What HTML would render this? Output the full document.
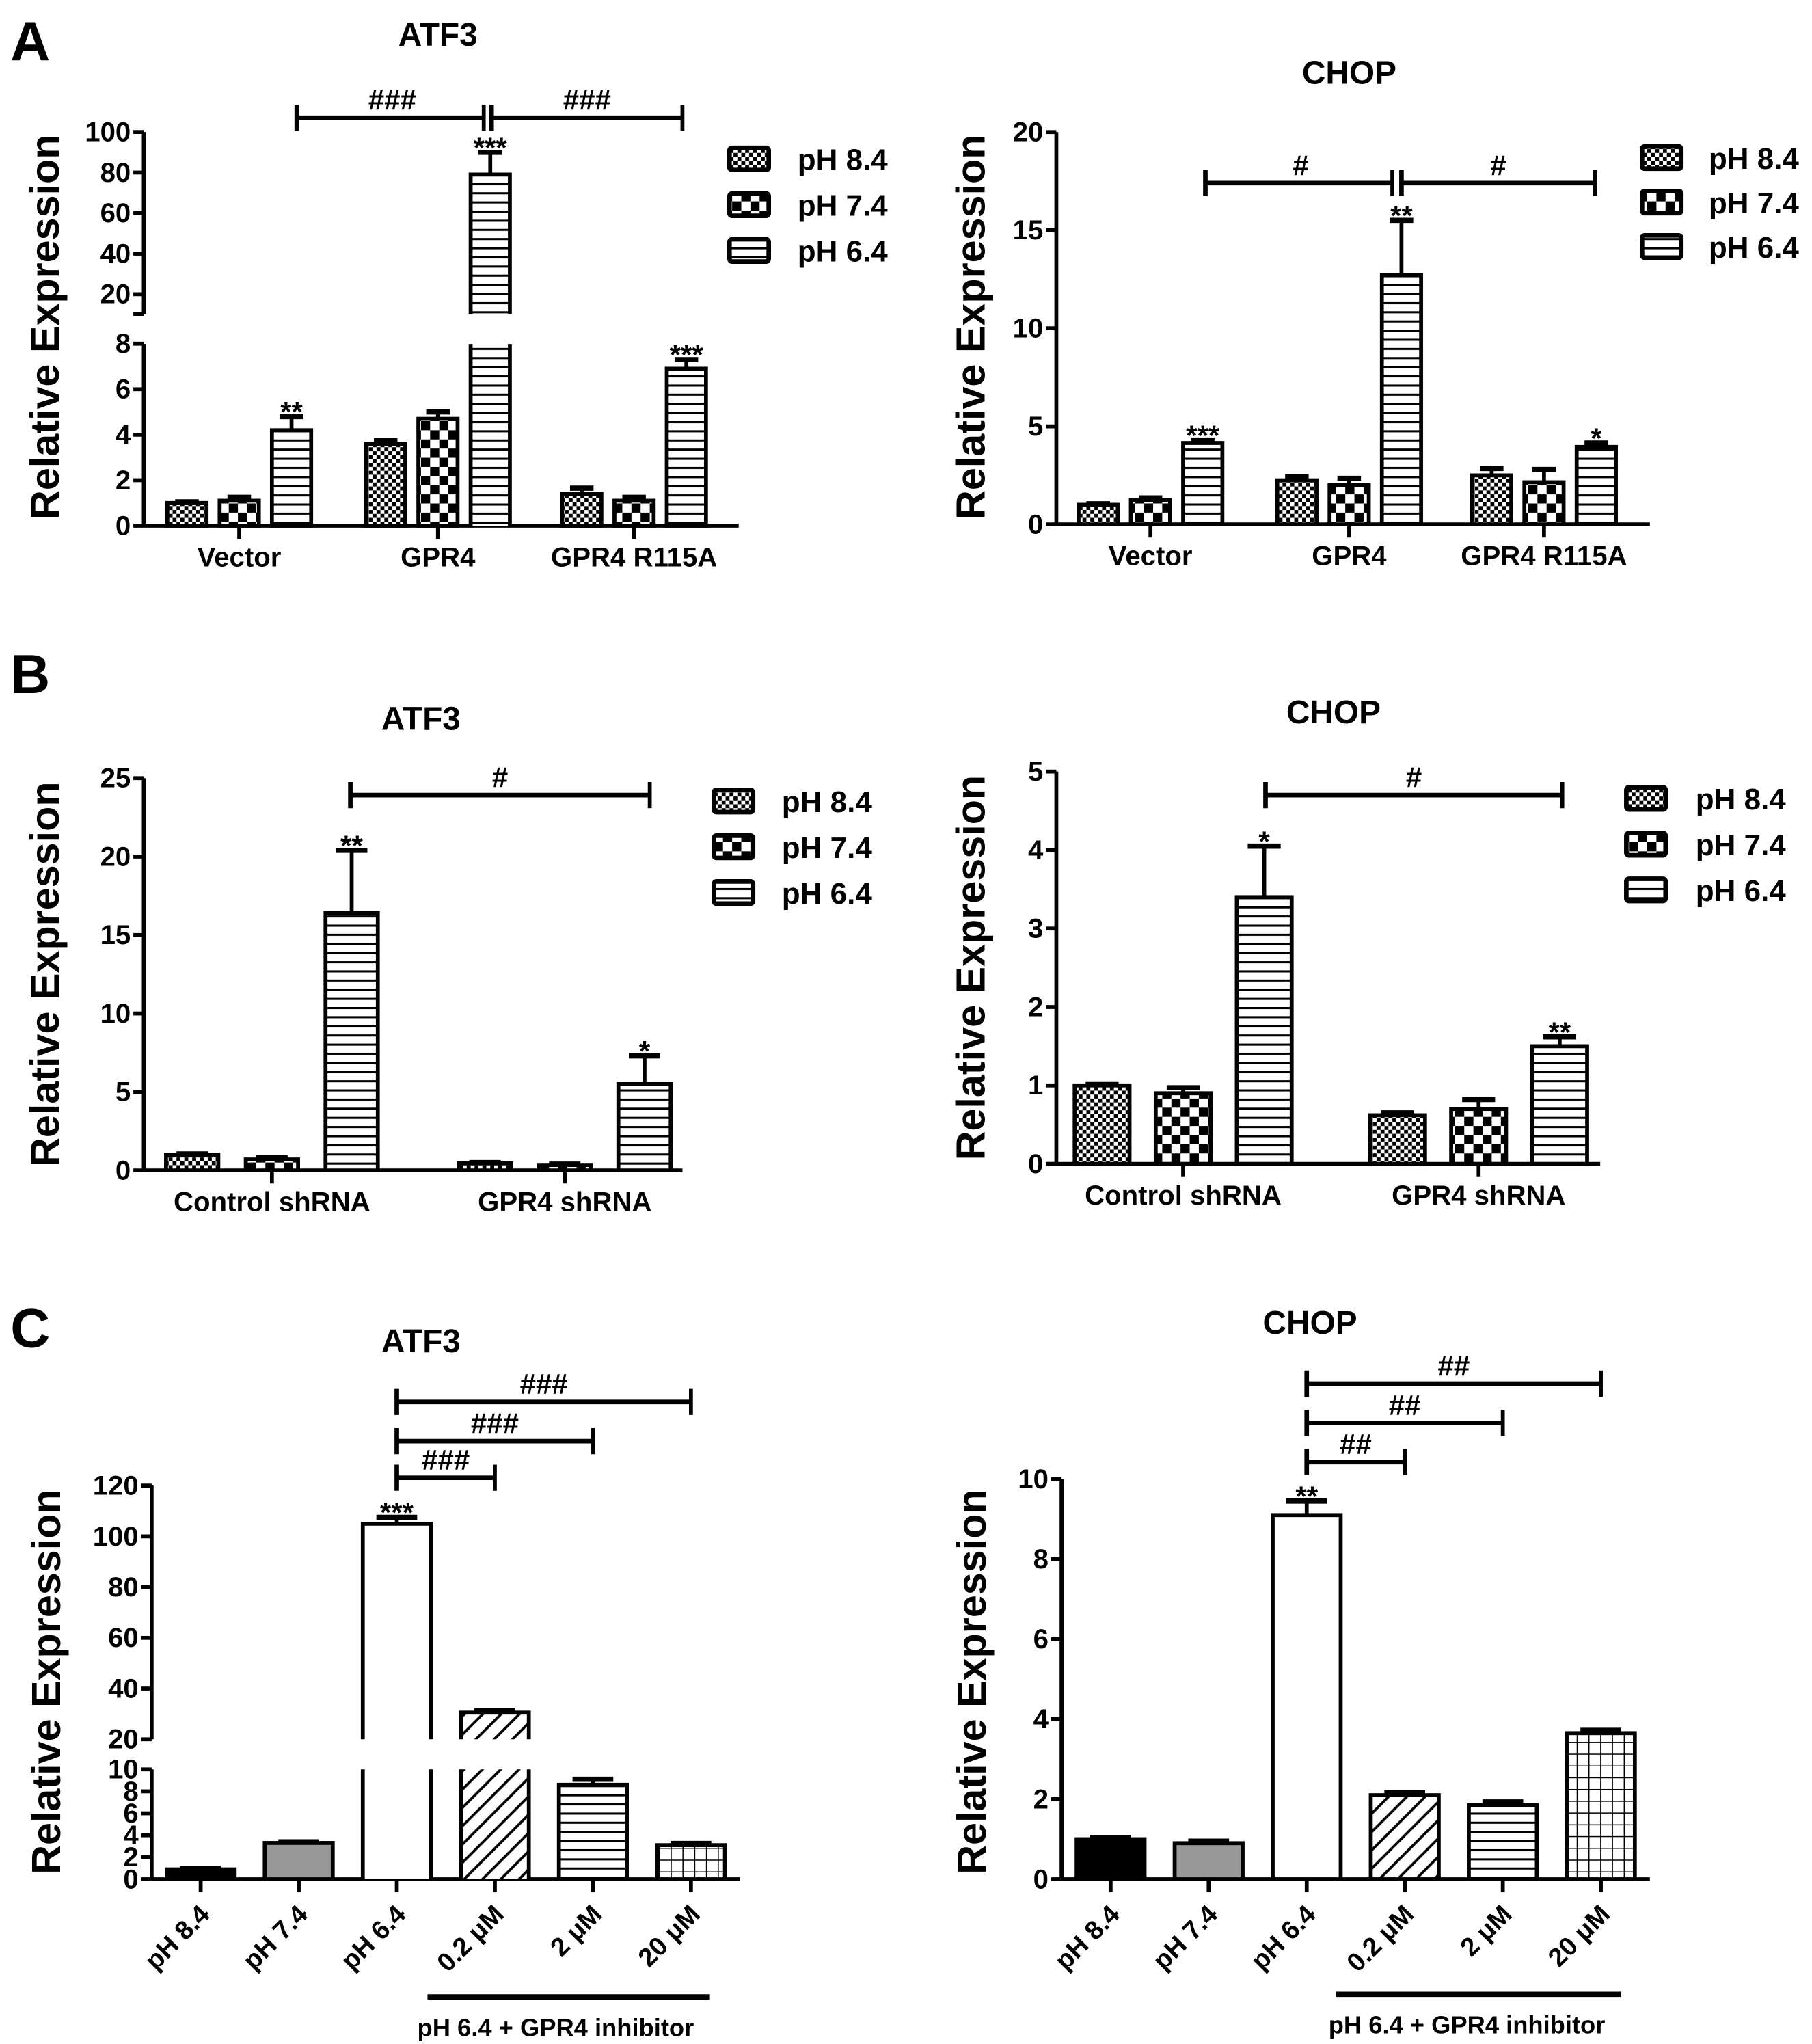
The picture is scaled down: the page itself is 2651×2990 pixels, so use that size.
<!DOCTYPE html>
<html><head><meta charset="utf-8">
<style>
html,body{margin:0;padding:0;background:#fff;}
svg{display:block;}
text{font-family:"Liberation Sans",Arial,sans-serif;font-weight:bold;fill:#000;}
</style></head>
<body>
<svg id="fig" width="2651" height="2990" viewBox="0 0 1386 1563" preserveAspectRatio="none" xmlns="http://www.w3.org/2000/svg">
<defs>
<pattern id="pFine" width="6" height="6" patternUnits="userSpaceOnUse"><rect width="6" height="6" fill="#fff"/><rect width="3" height="3" fill="#000"/><rect x="3" y="3" width="3" height="3" fill="#000"/></pattern>
<pattern id="pCoarse" width="14" height="14" patternUnits="userSpaceOnUse"><rect width="14" height="14" fill="#fff"/><rect width="7" height="7" fill="#000"/><rect x="7" y="7" width="7" height="7" fill="#000"/></pattern>
<pattern id="pHoriz" width="8" height="7" patternUnits="userSpaceOnUse"><rect width="8" height="7" fill="#fff"/><rect y="0" width="8" height="1.6" fill="#000"/></pattern>
<pattern id="pDiag" width="14" height="14" patternUnits="userSpaceOnUse"><rect width="14" height="14" fill="#fff"/><path d="M-2,16 L16,-2 M-9,9 L9,-9 M5,23 L23,5" stroke="#000" stroke-width="2"/></pattern>
<pattern id="pGrid" width="9" height="9" patternUnits="userSpaceOnUse"><rect width="9" height="9" fill="#fff"/><path d="M0,0 H9 M0,0 V9" stroke="#000" stroke-width="1.6"/></pattern>
</defs>
<g id="root"></g>
</svg>
<script>
// ---- Panel A ATF3 ----
const aAtfCats = ["Vector","GPR4","GPR4 R115A"];
const aAtf84 = [1.0, 3.6, 1.4];
const aAtf74 = [1.1, 4.7, 1.1];
const aAtf64 = [4.2, 79, 6.9];
const aAtfE84 = [0.05, 0.15, 0.25];
const aAtfE74 = [0.15, 0.3, 0.15];
const aAtfE64 = [0.6, 11, 0.4];
const aAtfStars = ["","","**","","","***","","","***"];
const aAtfLowTicks = [0,2,4,6,8];
const aAtfUpTicks = [20,40,60,80,100];
// ---- Panel A CHOP ----
const aChopCats = ["Vector","GPR4","GPR4 R115A"];
const aChop84 = [1.0, 2.25, 2.5];
const aChop74 = [1.25, 2.0, 2.15];
const aChop64 = [4.15, 12.7, 3.95];
const aChopE84 = [0.05, 0.2, 0.35];
const aChopE74 = [0.1, 0.35, 0.65];
const aChopE64 = [0.15, 2.8, 0.2];
const aChopStars = ["","","***","","","**","","","*"];
const aChopTicks = [0,5,10,15,20];
// ---- Panel B ATF3 ----
const bAtfCats = ["Control shRNA","GPR4 shRNA"];
const bAtf84 = [1.0, 0.45];
const bAtf74 = [0.7, 0.35];
const bAtf64 = [16.4, 5.5];
const bAtfE84 = [0.05, 0.05];
const bAtfE74 = [0.1, 0.05];
const bAtfE64 = [4.0, 1.8];
const bAtfStars = ["","","**","","","*"];
const bAtfTicks = [0,5,10,15,20,25];
// ---- Panel B CHOP ----
const bChopCats = ["Control shRNA","GPR4 shRNA"];
const bChop84 = [1.0, 0.62];
const bChop74 = [0.9, 0.7];
const bChop64 = [3.4, 1.5];
const bChopE84 = [0.01, 0.03];
const bChopE74 = [0.07, 0.12];
const bChopE64 = [0.65, 0.12];
const bChopStars = ["","","*","","","**"];
const bChopTicks = [0,1,2,3,4,5];
// ---- Panel C ATF3 ----
const cCats = ["pH 8.4","pH 7.4","pH 6.4","0.2 μM","2 μM","20 μM"];
const cAtfVals = [0.9, 3.3, 105, 30.5, 8.6, 3.1];
const cAtfErr = [0.1, 0.1, 2.5, 0.8, 0.5, 0.15];
const cAtfStars = ["","","***","","",""];
const cAtfLowTicks = [0,2,4,6,8,10];
const cAtfUpTicks = [20,40,60,80,100,120];
// ---- Panel C CHOP ----
const cChopVals = [1.0, 0.9, 9.1, 2.1, 1.85, 3.65];
const cChopErr = [0.04, 0.05, 0.35, 0.06, 0.08, 0.07];
const cChopStars = ["","","**","","",""];
const cChopTicks = [0,2,4,6,8,10];
const cFills = ["#000","#999","#fff","url(#pDiag)","url(#pHoriz)","url(#pGrid)"];
const legendLabels = ["pH 8.4","pH 7.4","pH 6.4"];
const groupFills = ["url(#pFine)","url(#pCoarse)","url(#pHoriz)"];

const NS="http://www.w3.org/2000/svg";
const root=document.getElementById('root');
function mk(tag,attrs,parent,txt){const e=document.createElementNS(NS,tag);for(const k in attrs)e.setAttribute(k,attrs[k]);if(txt!==undefined)e.textContent=txt;(parent||root).appendChild(e);return e;}
function line(g,x1,y1,x2,y2,w){return mk('line',{x1,y1,x2,y2,stroke:'#000','stroke-width':w||3},g);}

function makeY(s){return v=>{ if(s.lowMax===undefined||v<=s.lowMax) return s.base - v*s.lowK; return s.upBottom-(v-s.upMin)*s.upK; };}

function drawBar(g,name,x,w,v,err,fill,s,y){
  const b=mk('g',{},g);
  
  
  const top=y(v);
  if(s.lowMax!==undefined && v>s.lowMax){
    mk('rect',{x,y:s.lowTop,width:w,height:s.base-s.lowTop,fill},b);
    mk('path',{d:`M${x},${s.base} V${s.lowTop} M${x+w},${s.lowTop} V${s.base}`,stroke:'#000','stroke-width':3,fill:'none'},b);
    mk('rect',{x,y:top,width:w,height:s.upBottom-top,fill},b);
    mk('path',{d:`M${x},${s.upBottom} V${top} H${x+w} V${s.upBottom}`,stroke:'#000','stroke-width':3,fill:'none'},b);
  } else {
    mk('rect',{x,y:top,width:w,height:s.base-top,fill,stroke:'#000','stroke-width':3},b);
  }
  const et=y(v+err);
  const cx=x+w/2;
  line(b,cx,top,cx,et,3);
  line(b,cx-w*0.3,et,cx+w*0.3,et,4);
  return et;
}

function axisY(g,s,y,ticks,axX,fontSize){
  const a=mk('g',{},g);
  
  
  ticks.forEach(t=>{const ty=y(t);line(a,axX-8,ty,axX,ty,3);
    const tx=mk('text',{x:axX-10,y:ty+7,'text-anchor':'end','font-size':fontSize||21},a,String(t));
    });
  return a;
}

function label(x,y,txt,size,name,anchor,extra){
  const t=mk('text',Object.assign({x,y,'font-size':size,'text-anchor':anchor||'middle'},extra||{}),root,txt);
  return t;
}

function sigBar(g,x1,x2,yy,txt,brk){
  const sb=mk('g',{},g);
  
  
  line(sb,x1,yy,x2-(brk?3:0),yy,3.5);
  line(sb,x1,yy-10,x1,yy+10,3.5);
  line(sb,x2-(brk?3:0),yy-10,x2-(brk?3:0),yy+10,3);
  const t=mk('text',{x:(x1+x2)/2,y:yy-6,'text-anchor':'middle','font-size':22,'font-weight':'normal'},sb,txt);
  
}

function legend(x,y0,dy,textX){
  const lg=mk('g',{},root);
  
  
  legendLabels.forEach((l,i)=>{
    const e=mk('g',{},lg);
    
    
    mk('rect',{x,y:y0+i*dy,width:30,height:17,fill:groupFills[i],stroke:'#000','stroke-width':3.5,rx:2},e);
    mk('text',{x:textX,y:y0+i*dy+17,'font-size':23},e,l);
  });
}

function groupChart(o){
  const g=mk('g',{},root);
  
  
  const y=makeY(o.s);
  const s=o.s;
  if(s.lowMax!==undefined){
    line(g,o.axX,s.base,o.axX,s.lowTop,3);
    line(g,o.axX,s.upBottom,o.axX,y(o.upTicks[o.upTicks.length-1]),3);
    line(g,o.axX-8,s.upBottom,o.axX,s.upBottom,3);
    axisY(g,s,y,o.lowTicks,o.axX);axisY(g,s,y,o.upTicks,o.axX);
  } else {
    line(g,o.axX,s.base,o.axX,y(o.ticks[o.ticks.length-1]),3);
    axisY(g,s,y,o.ticks,o.axX);
  }
  line(g,o.axX,s.base,o.axEnd,s.base,3);
  const series=[o.v84,o.v74,o.v64], errs=[o.e84,o.e74,o.e64];
  const gap=(o.axEnd-o.axX)/o.cats.length;
  o.cats.forEach((c,ci)=>{
    const gc=o.centers?o.centers[ci]:o.axX+gap*(ci+0.5)+(o.shift||0);
    line(g,gc,s.base,gc,s.base+10,3);
    const tl=mk('text',{x:gc,y:s.base+31,'text-anchor':'middle','font-size':21},g,c);
    
    for(let k=0;k<3;k++){
      const x=gc+(k-1)*o.step-o.bw/2;
      const et=drawBar(g,'bar-'+c.replace(/\s+/g,'-').toLowerCase()+'-'+legendLabels[k].replace(/\s|\./g,''),x,o.bw,series[k][ci],errs[k][ci],groupFills[k],s,y);
      const st=o.stars[ci*3+k];
      if(st){const t=mk('text',{x:x+o.bw/2,y:et+4,'text-anchor':'middle','font-size':22,'font-weight':'normal'},g,st);
        }
    }
  });
  return g;
}

function singleChart(o){
  const g=mk('g',{},root);
  
  
  const s=o.s;const y=makeY(s);
  if(s.lowMax!==undefined){
    line(g,o.axX,s.base,o.axX,s.lowTop,3);
    line(g,o.axX,s.upBottom,o.axX,y(o.upTicks[o.upTicks.length-1]),3);
    axisY(g,s,y,o.lowTicks,o.axX);axisY(g,s,y,o.upTicks,o.axX);
  } else {
    line(g,o.axX,s.base,o.axX,y(o.ticks[o.ticks.length-1]),3);
    axisY(g,s,y,o.ticks,o.axX);
  }
  line(g,o.axX,s.base,o.axEnd,s.base,3);
  const gap=(o.axEnd-o.axX)/o.cats.length;
  o.cats.forEach((c,i)=>{
    const cx=o.axX+gap*(i+0.5);
    line(g,cx,s.base,cx,s.base+10,3);
    const tl=mk('text',{x:0,y:0,'text-anchor':'end','font-size':20,transform:`translate(${cx+8},${s.base+28}) rotate(-45)`},g,c);
    
    const et=drawBar(g,'bar-'+c.replace(/\s+/g,'-').replace('μ','u').toLowerCase(),cx-o.bw/2,o.bw,o.vals[i],o.err[i],cFills[i],s,y);
    if(o.stars[i]){const t=mk('text',{x:cx,y:et+4,'text-anchor':'middle','font-size':22,'font-weight':'normal'},g,o.stars[i]);
      }
  });
  o.cx=i=>o.axX+gap*(i+0.5);
  return o;
}

label(8,46,'A',42,'panel-label-a','start');
label(8,530,'B',42,'panel-label-b','start');
label(8,1030,'C',42,'panel-label-c','start');
label(335,35,'ATF3',25,'title-a-atf3');
label(1032,64,'CHOP',25,'title-a-chop');
label(322,558,'ATF3',25,'title-b-atf3');
label(1020,553,'CHOP',25,'title-b-chop');
label(322,1034,'ATF3',25,'title-c-atf3');
label(1002,1020,'CHOP',25,'title-c-chop');
[[45,250],[753,250],[45,745],[753,740],[46,1286],[754,1286]].forEach(p=>{
  label(0,0,'Relative Expression',31,'y-axis-title','middle',{transform:`translate(${p[0]},${p[1]}) rotate(-90)`});
});

groupChart({name:'chart-a-atf3',axX:110,axEnd:565,cats:aAtfCats,v84:aAtf84,v74:aAtf74,v64:aAtf64,e84:aAtfE84,e74:aAtfE74,e64:aAtfE64,stars:aAtfStars,
  s:{base:402,lowK:17.4,lowMax:8,lowTop:263,upBottom:240,upMin:10.3,upK:1.55},lowTicks:aAtfLowTicks,upTicks:aAtfUpTicks,step:40,bw:30,centers:[183,335,485]});
sigBar(root,227,373,90,'###',true);sigBar(root,376,522,90,'###');
legend(558,113,35,610);

groupChart({name:'chart-a-chop',axX:808,axEnd:1262,cats:aChopCats,v84:aChop84,v74:aChop74,v64:aChop64,e84:aChopE84,e74:aChopE74,e64:aChopE64,stars:aChopStars,
  s:{base:401,lowK:15},ticks:aChopTicks,step:40,bw:30,centers:[880,1032,1181]});
sigBar(root,922,1068,140,'#',true);sigBar(root,1072,1220,140,'#');
legend(1256,112,34,1307);

groupChart({name:'chart-b-atf3',axX:110,axEnd:522,cats:bAtfCats,v84:bAtf84,v74:bAtf74,v64:bAtf64,e84:bAtfE84,e74:bAtfE74,e64:bAtfE64,stars:bAtfStars,
  s:{base:895,lowK:12},ticks:bAtfTicks,step:61,bw:40,centers:[208,432]});
sigBar(root,268,497,608,'#');
legend(546,604,35,598);

groupChart({name:'chart-b-chop',axX:808,axEnd:1224,cats:bChopCats,v84:bChop84,v74:bChop74,v64:bChop64,e84:bChopE84,e74:bChopE74,e64:bChopE64,stars:bChopStars,
  s:{base:890,lowK:60},ticks:bChopTicks,step:62,bw:42,centers:[905,1131]});
sigBar(root,968,1195,608,'#');
legend(1244,602,35,1297);

const ca=singleChart({name:'chart-c-atf3',axX:116,axEnd:566,cats:cCats,vals:cAtfVals,err:cAtfErr,stars:cAtfStars,bw:52,
  s:{base:1437,lowK:8.4,lowMax:10,lowTop:1353,upBottom:1330,upMin:20,upK:1.94},lowTicks:cAtfLowTicks,upTicks:cAtfUpTicks});
sigBar(root,ca.cx(2),ca.cx(3),1130,'###');sigBar(root,ca.cx(2),ca.cx(4),1102,'###');sigBar(root,ca.cx(2),ca.cx(5),1072,'###');
line(root,327,1527,543,1527,4);
label(425,1557,'pH 6.4 + GPR4 inhibitor',19,'x-group-label-c-atf3');

const cc=singleChart({name:'chart-c-chop',axX:812,axEnd:1262,cats:cCats,vals:cChopVals,err:cChopErr,stars:cChopStars,bw:52,
  s:{base:1437,lowK:30.6},ticks:cChopTicks});
sigBar(root,cc.cx(2),cc.cx(3),1118,'##');sigBar(root,cc.cx(2),cc.cx(4),1088,'##');sigBar(root,cc.cx(2),cc.cx(5),1058,'##');
line(root,1022,1525,1240,1525,4);
label(1122,1555,'pH 6.4 + GPR4 inhibitor',19,'x-group-label-c-chop');
</script>
</body></html>
